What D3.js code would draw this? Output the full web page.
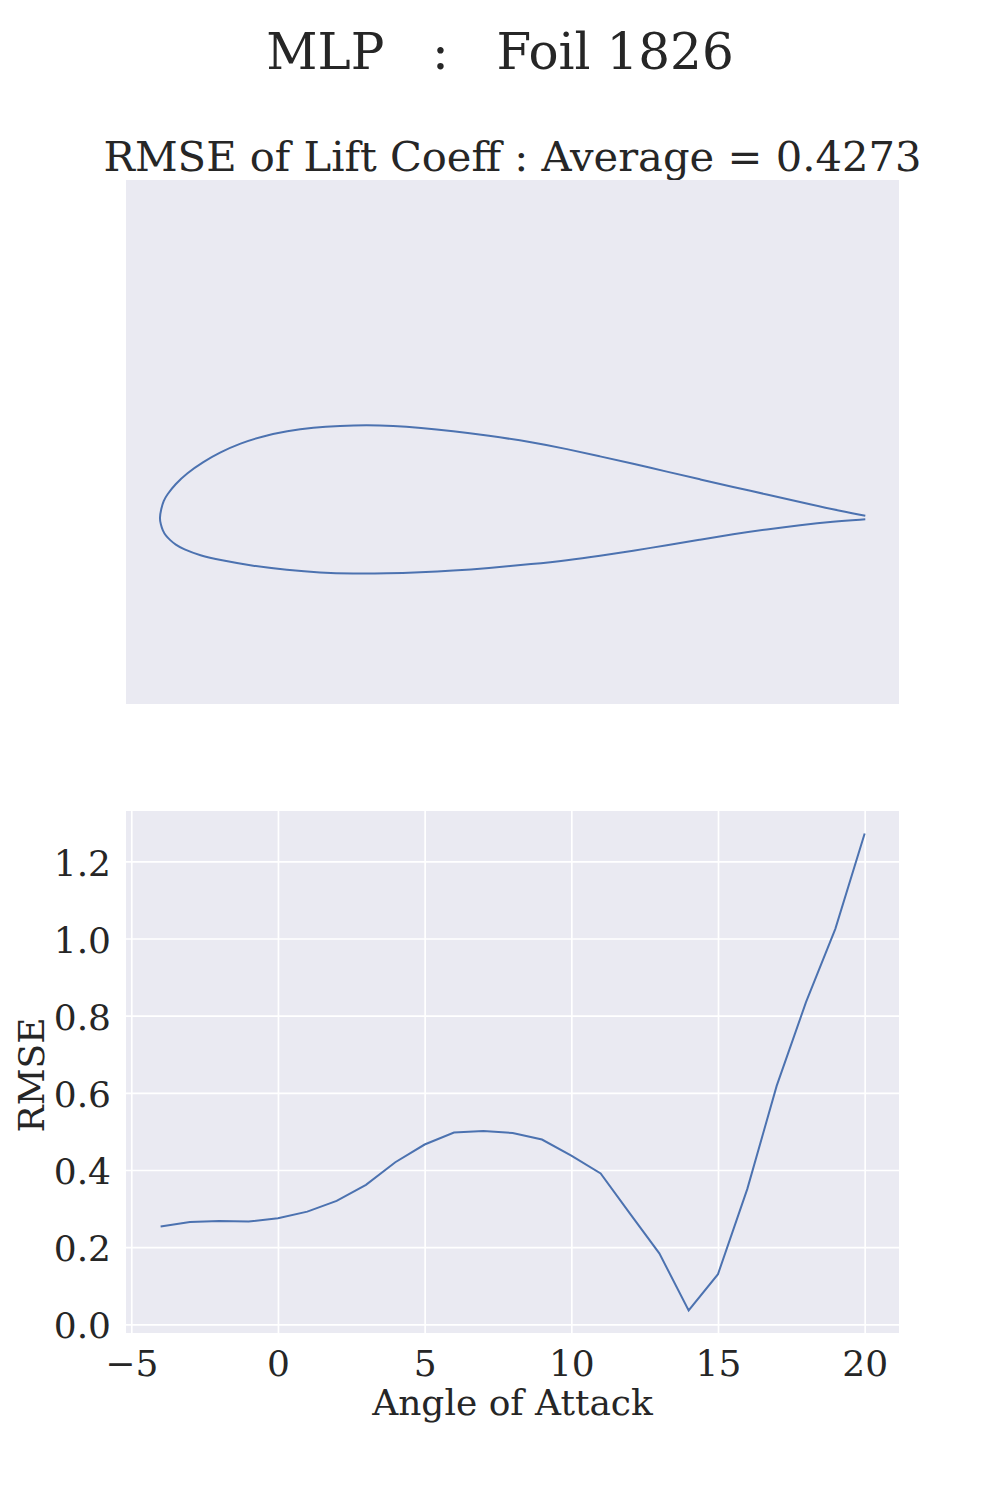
<!DOCTYPE html>
<html>
<head>
<meta charset="utf-8">
<script src="https://cdn.jsdelivr.net/npm/d3@7"></script>
<style>
html,body{margin:0;padding:0;background:#fff;}
svg{display:block;}
text{font-family:"DejaVu Serif",serif;fill:#262626;white-space:pre;}
.domain{display:none;}
.tick line{stroke:#fff;stroke-width:1.7px;}
</style>
</head>
<body>
<div id="chart"></div>
<script>
const figureTitle = "MLP   :   Foil 1826";
const foilTitle = "RMSE of Lift Coeff : Average = 0.4273";
const xLabel = "Angle of Attack";
const yLabel = "RMSE";
const angles = [-4,-3,-2,-1,0,1,2,3,4,5,6,7,8,9,10,11,12,13,14,15,16,17,18,19,20];
const rmse = [0.2535,0.265,0.268,0.2665,0.275,0.292,0.32,0.3615,0.42,0.466,0.497,0.501,0.496,0.479,0.437,0.391,0.287,0.184,0.036,0.130,0.351,0.618,0.835,1.025,1.272];
const xTicks = [-5,0,5,10,15,20];
const yTicks = [0,0.2,0.4,0.6,0.8,1.0,1.2];
const foilX = [1,.9542,.9074,.8605,.8123,.7655,.7187,.6705,.6237,.5769,.5287,.4634,.4152,.3684,.3301,.2928,.2549,.217,.1793,.1461,.113,.0847,.061,.0374,.0209,.0095,.0045,.0012,-.0012,
  .0006,.0033,.0078,.0138,.0215,.0322,.0563,.0847,.1315,.1797,.2265,.2733,.3216,.3684,.4152,.4634,.5287,.5769,.6237,.6705,.7187,.7655,.8123,.8605,.9074,.9542,1];
const foilY = [.0047,.0135,.0241,.0348,.0455,.0563,.0672,.0784,.0889,.0993,.1088,.1187,.1247,.1295,.1323,.1333,.1323,.13,.1248,.1177,.1074,.0946,.0813,.0648,.0492,.0345,.026,.0145,.001,
  -.0075,-.0165,-.024,-.0298,-.0365,-.0426,-.0518,-.0582,-.0667,-.0723,-.0762,-.0776,-.0772,-.0756,-.0733,-.0699,-.0638,-.0586,-.0521,-.045,-.0372,-.0294,-.0215,-.0146,-.0085,-.0035,-.0004];

const svg = d3.select("#chart").append("svg").attr("width",1000).attr("height",1500);
svg.append("rect").attr("width",1000).attr("height",1500).attr("fill","#fff");
const L=126,R=899,T1=180,B1=704,T2=811,B2=1333;
const blue="#4c72b0", bg="#eaeaf2";

svg.append("text").attr("x",500).attr("y",69).attr("text-anchor","middle").attr("font-size",50).text(figureTitle);
svg.append("text").attr("x",512.5).attr("y",171).attr("text-anchor","middle").attr("font-size",41.67).text(foilTitle);

// foil panel
svg.append("rect").attr("x",L).attr("y",T1).attr("width",R-L).attr("height",B1-T1).attr("fill",bg);
const fx=d3.scaleLinear().domain([-0.0487,1.0478]).range([L,R]);
const fy=d3.scaleLinear().domain([-0.2624,0.4809]).range([B1,T1]);
const foilLine=d3.line().x(i=>fx(foilX[i])).y(i=>fy(foilY[i])).curve(d3.curveBasis);
svg.append("path").attr("d",foilLine(d3.range(foilX.length))).attr("fill","none").attr("stroke",blue).attr("stroke-width",2);

// RMSE panel
svg.append("rect").attr("x",L).attr("y",T2).attr("width",R-L).attr("height",B2-T2).attr("fill",bg);
const x=d3.scaleLinear().domain([-5.18,21.17]).range([L,R]);
const y=d3.scaleLinear().domain([-0.02255,1.3305]).range([B2,T2]);
const gx=svg.append("g").attr("transform",`translate(0,${B2})`)
  .call(d3.axisBottom(x).tickValues(xTicks).tickSize(-(B2-T2)).tickFormat(d=>d<0?"\u2212"+Math.abs(d):String(d)));
gx.selectAll("text").attr("font-size",36).attr("fill","#262626").attr("font-family","DejaVu Serif").attr("y",17.4);
const gy=svg.append("g").attr("transform",`translate(${L},0)`)
  .call(d3.axisLeft(y).tickValues(yTicks).tickSize(-(R-L)).tickFormat(d3.format(".1f")));
gy.selectAll("text").attr("font-size",36).attr("fill","#262626").attr("font-family","DejaVu Serif").attr("x",-15).attr("dy","0.38em");
svg.append("path").datum(angles.map((a,i)=>[a,rmse[i]]))
  .attr("d",d3.line().x(d=>x(d[0])).y(d=>y(d[1])))
  .attr("fill","none").attr("stroke",blue).attr("stroke-width",2);
svg.append("text").attr("x",512.5).attr("y",1415).attr("text-anchor","middle").attr("font-size",36).text(xLabel);
svg.append("text").attr("transform","translate(44,1075) rotate(-90)").attr("text-anchor","middle").attr("font-size",36).text(yLabel);
</script>
</body>
</html>
